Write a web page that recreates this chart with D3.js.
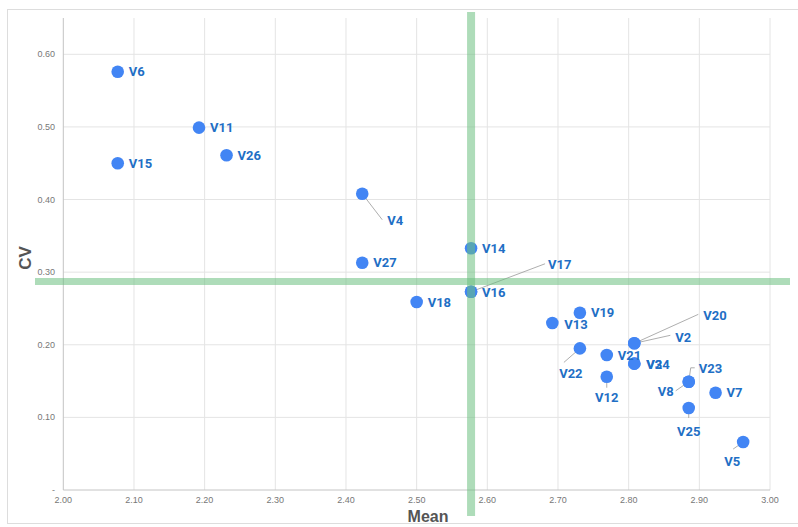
<!DOCTYPE html>
<html>
<head>
<meta charset="utf-8">
<script src="https://cdn.jsdelivr.net/npm/d3@7"></script>
<style>
  body { margin: 0; background: #fff; }
  .tick-label { font-family: "Liberation Sans", Arial, sans-serif; font-size: 9px; fill: #777; }
  .axis-title { font-family: "Liberation Sans", Arial, sans-serif; font-weight: bold; fill: #555; }
  .pt-label { font-family: Roboto, sans-serif; font-weight: 700; font-size: 13px; fill: #1f6fc5; }
</style>
</head>
<body>
<svg id="chart" width="798" height="527"></svg>
<script>
// ---------------------------------------
// data
const names = ["V6", "V11", "V15", "V26", "V4", "V27", "V14", "V16", "V17", "V18", "V13", "V19",
  "V22", "V21", "V12", "V2", "V20", "V24", "V3", "V23", "V8", "V7", "V25", "V5"];
const means = [2.077, 2.192, 2.077, 2.231, 2.423, 2.423, 2.577, 2.577, 2.577, 2.500, 2.692, 2.731,
  2.731, 2.769, 2.769, 2.808, 2.808, 2.808, 2.808, 2.885, 2.885, 2.923, 2.885, 2.962];
const cvs = [0.576, 0.499, 0.450, 0.461, 0.408, 0.313, 0.333, 0.273, 0.273, 0.259, 0.230, 0.244,
  0.195, 0.186, 0.156, 0.202, 0.202, 0.174, 0.174, 0.149, 0.149, 0.134, 0.113, 0.066];
const xTicks = [2.0, 2.1, 2.2, 2.3, 2.4, 2.5, 2.6, 2.7, 2.8, 2.9, 3.0];
const yTicks = [0, 0.1, 0.2, 0.3, 0.4, 0.5, 0.6];
const meanRef = 2.577; // vertical reference line
const cvRef = 0.287;   // horizontal reference line

// label placement (offsets from the point), default: right of the point
const labelPos = {
  V4: {dx: 25, dy: 27, line: [[20, 26]]},
  V17: {dx: 77, dy: -27, line: [[74, -28]]},
  V20: {dx: 69, dy: -28, line: [[64, -29]]},
  V2: {dx: 41, dy: -6, line: [[36, -8]]},
  V22: {dx: -9, dy: 25, anchor: "middle", line: [[-16, 14]]},
  V12: {dx: 0, dy: 21, anchor: "middle", line: [[0, 11]]},
  V23: {dx: 10, dy: -13, line: [[2, -14], [6, -14]]},
  V8: {dx: -15, dy: 10, anchor: "end", line: [[-13, 9]]},
  V25: {dx: 0, dy: 23, anchor: "middle", line: [[0, 10]]},
  V5: {dx: -11, dy: 19, anchor: "middle", line: [[-10, 7]]},
  V24: {dx: 12, dy: 1},
  V3: {dx: 12, dy: 1},
  V13: {dx: 12, dy: 1},
  V16: {dx: 11, dy: 1}
};

const points = names.map((n, i) => ({name: n, mean: means[i], cv: cvs[i]}));

// ---------------------------------------
// svg params
const svg = d3.select("#chart");
const plotLeft = 63.3, plotRight = 770, plotTop = 18, plotBottom = 490;

const x = d3.scaleLinear().domain([2, 3]).range([plotLeft, plotRight]);
const y = d3.scaleLinear().domain([0, 0.65]).range([plotBottom, plotTop]);

// outer frame
svg.append("rect")
    .attr("x", 7.5).attr("y", 9.5)
    .attr("width", 800).attr("height", 514)
    .attr("fill", "none").attr("stroke", "#ddd");

// grid
svg.append("g").selectAll("line")
    .data(xTicks.slice(1))
    .enter().append("line")
    .attr("x1", d => x(d)).attr("x2", d => x(d))
    .attr("y1", plotTop).attr("y2", plotBottom)
    .attr("stroke", "#e4e4e4");
svg.append("g").selectAll("line")
    .data(yTicks.slice(1))
    .enter().append("line")
    .attr("x1", plotLeft).attr("x2", plotRight)
    .attr("y1", d => y(d)).attr("y2", d => y(d))
    .attr("stroke", "#e4e4e4");

// axis lines
svg.append("line")
    .attr("x1", plotLeft).attr("x2", plotLeft).attr("y1", plotTop).attr("y2", plotBottom)
    .attr("stroke", "#c4c4c4");
svg.append("line")
    .attr("x1", plotLeft).attr("x2", plotRight).attr("y1", plotBottom).attr("y2", plotBottom)
    .attr("stroke", "#c4c4c4");

// tick labels
svg.append("g").selectAll("text")
    .data(xTicks)
    .enter().append("text")
    .attr("class", "tick-label")
    .attr("x", d => x(d)).attr("y", plotBottom + 13)
    .attr("text-anchor", "middle")
    .text(d => d3.format(".2f")(d));
svg.append("g").selectAll("text")
    .data(yTicks)
    .enter().append("text")
    .attr("class", "tick-label")
    .attr("x", 55).attr("y", d => y(d) + 3)
    .attr("text-anchor", "end")
    .text(d => d === 0 ? "-" : d3.format(".2f")(d));

// axis titles
svg.append("text")
    .attr("class", "axis-title")
    .attr("x", 428).attr("y", 522)
    .attr("text-anchor", "middle")
    .attr("font-size", 16)
    .text("Mean");
svg.append("text")
    .attr("class", "axis-title")
    .attr("transform", "translate(31,258) rotate(-90)")
    .attr("text-anchor", "middle")
    .attr("font-size", 17)
    .text("CV");

// leader lines
const withLines = points.filter(d => labelPos[d.name] && labelPos[d.name].line);
svg.append("g").selectAll("path")
    .data(withLines)
    .enter().append("path")
    .attr("fill", "none")
    .attr("stroke", "#999")
    .attr("stroke-width", 0.8)
    .attr("d", d => {
      const px = x(d.mean), py = y(d.cv);
      const pts = [[px, py]].concat(labelPos[d.name].line.map(o => [px + o[0], py + o[1]]));
      return d3.line()(pts);
    });

// points
svg.append("g").selectAll("circle")
    .data(points)
    .enter().append("circle")
    .attr("cx", d => x(d.mean))
    .attr("cy", d => y(d.cv))
    .attr("r", 6.3)
    .attr("fill", "#4285f4");

// reference lines (drawn over the points, translucent)
svg.append("line")
    .attr("x1", 35).attr("x2", 790)
    .attr("y1", y(cvRef)).attr("y2", y(cvRef))
    .attr("stroke", "#6cc07f").attr("stroke-opacity", 0.55)
    .attr("stroke-width", 7);
svg.append("line")
    .attr("x1", x(meanRef)).attr("x2", x(meanRef))
    .attr("y1", 12).attr("y2", 516)
    .attr("stroke", "#6cc07f").attr("stroke-opacity", 0.55)
    .attr("stroke-width", 8);

// point labels
svg.append("g").selectAll("text")
    .data(points)
    .enter().append("text")
    .attr("class", "pt-label")
    .attr("x", d => x(d.mean) + (labelPos[d.name] ? labelPos[d.name].dx : 11))
    .attr("y", d => y(d.cv) + (labelPos[d.name] ? labelPos[d.name].dy : 0))
    .attr("dy", "0.36em")
    .attr("text-anchor", d => (labelPos[d.name] && labelPos[d.name].anchor) || "start")
    .text(d => d.name);
</script>
</body>
</html>
